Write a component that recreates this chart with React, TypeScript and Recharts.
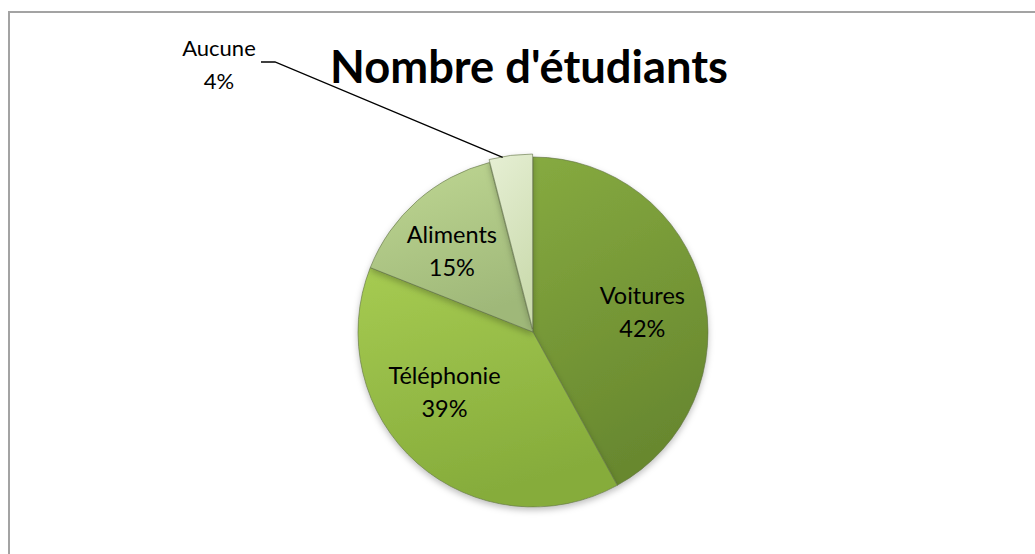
import React from "react";
import { PieChart, Pie, Cell, Sector } from "recharts";

const categories = ["Voitures", "Téléphonie", "Aliments", "Aucune"];
const shares = [42, 39, 15, 4];
const title = "Nombre d'étudiants";

const data = categories.map((name, i) => ({ name, value: shares[i] }));

const gradients = [
  ["#86aa40", "#68882f"],
  ["#a6cb52", "#86ac3b"],
  ["#bfd793", "#9fb879"],
  ["#e6efd4", "#cbdbae"],
];

const RAD = Math.PI / 180;
const FONT = "Lato, 'Open Sans', sans-serif";
// small angular nudges so the inside labels sit where the original put them
const labelNudge = [-7, -12, 6];
const EXPLODE = 3;

function renderLabel(props: any) {
  const { cx, cy, midAngle, outerRadius, index, name, percent } = props;
  const pct = `${Math.round(percent * 100)}%`;
  if (index === 3) {
    const ax = cx + (outerRadius + EXPLODE) * Math.cos(-midAngle * RAD) - 8;
    const ay = cy + (outerRadius + EXPLODE) * Math.sin(-midAngle * RAD) + 2;
    const ex = cx - 258;
    const ey = cy - 270;
    return (
      <g>
        <polyline
          points={`${ax},${ay} ${ex},${ey} ${ex - 14},${ey}`}
          fill="none"
          stroke="#000"
          strokeWidth={1.3}
        />
        <text x={cx - 314} y={cy - 276} textAnchor="middle" fontFamily={FONT} fontSize={22} fill="#000">
          <tspan x={cx - 314} dy={0}>{name}</tspan>
          <tspan x={cx - 314} dy={33}>{pct}</tspan>
        </text>
      </g>
    );
  }
  const a = midAngle + labelNudge[index];
  const r = outerRadius * 0.63;
  const x = cx + r * Math.cos(-a * RAD);
  const y = cy + r * Math.sin(-a * RAD);
  return (
    <text x={x} y={y} textAnchor="middle" fontFamily={FONT} fontSize={23.5} fill="#000">
      <tspan x={x} dy={-14}>{name}</tspan>
      <tspan x={x} dy={33}>{pct}</tspan>
    </text>
  );
}

function renderShape(props: any) {
  const { cx, cy, midAngle, index } = props;
  if (index === 3) {
    return (
      <Sector
        {...props}
        cx={cx + EXPLODE * Math.cos(-midAngle * RAD)}
        cy={cy + EXPLODE * Math.sin(-midAngle * RAD)}
      />
    );
  }
  return <Sector {...props} />;
}

export default function App() {
  return (
    <div
      style={{
        position: "absolute",
        left: 0,
        top: 0,
        width: 1035,
        height: 554,
        overflow: "hidden",
        background: "#fff",
      }}
    >
      <div
        style={{
          position: "absolute",
          left: 8,
          top: 11,
          width: 1100,
          height: 600,
          border: "2px solid #a3a3a3",
        }}
      />
      <div style={{ position: "absolute", left: 0, top: 0 }}>
        <PieChart width={1035} height={554}>
          <defs>
            {gradients.map((g, i) => (
              <linearGradient key={i} id={`slice${i}`} x1="0" y1="0" x2="0.3" y2="1">
                <stop offset="0%" stopColor={g[0]} />
                <stop offset="100%" stopColor={g[1]} />
              </linearGradient>
            ))}
            <filter id="shadow" x="-20%" y="-20%" width="140%" height="140%">
              <feDropShadow dx="0" dy="3" stdDeviation="3" floodColor="#000" floodOpacity="0.25" />
            </filter>
          </defs>
          <text
            x={529}
            y={83}
            textAnchor="middle"
            fontFamily={FONT}
            fontWeight="bold"
            fontSize={46}
            textLength={398}
            lengthAdjust="spacingAndGlyphs"
            fill="#000"
          >
            {title}
          </text>
          <Pie
            data={data}
            dataKey="value"
            nameKey="name"
            cx={528}
            cy={327}
            outerRadius={175}
            startAngle={90}
            endAngle={-270}
            stroke="#5f6f45"
            strokeOpacity={0.6}
            strokeWidth={1}
            label={renderLabel}
            labelLine={false}
            shape={renderShape}
            isAnimationActive={false}
            style={{ filter: "url(#shadow)" }}
          >
            {data.map((d, i) => (
              <Cell key={d.name} fill={`url(#slice${i})`} />
            ))}
          </Pie>
        </PieChart>
      </div>
    </div>
  );
}
